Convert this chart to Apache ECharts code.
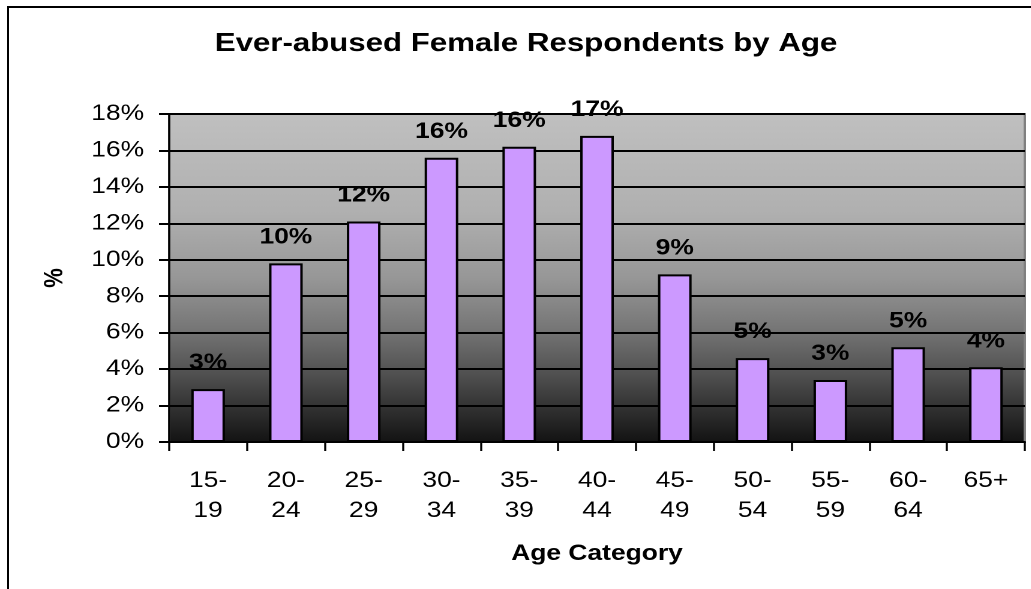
<!DOCTYPE html>
<html>
<head>
<meta charset="utf-8">
<script src="https://cdn.jsdelivr.net/npm/echarts@6/dist/echarts.min.js"></script>
<style>
html,body{margin:0;padding:0;background:#fff;overflow:hidden;}
#frame{position:absolute;left:7px;top:6px;width:1030px;height:590px;border-top:2px solid #000;border-left:2px solid #000;}
#chart{position:absolute;left:0;top:0;width:859px;height:589px;transform:scaleX(1.2);transform-origin:0 0;}
</style>
</head>
<body>
<div id="frame"></div>
<div id="chart"></div>
<script>
const categories = ['15-\n19','20-\n24','25-\n29','30-\n34','35-\n39','40-\n44','45-\n49','50-\n54','55-\n59','60-\n64','65+'];
const values = [2.9, 9.8, 12.1, 15.6, 16.2, 16.8, 9.2, 4.6, 3.4, 5.2, 4.1];
const yTicks = {min: 0, max: 18, interval: 2};

const font = 'Liberation Sans, Arial, sans-serif';
const chart = echarts.init(document.getElementById('chart'), null, {renderer: 'canvas', devicePixelRatio: 2});
chart.setOption({
  animation: false,
  backgroundColor: 'transparent',
  title: {
    text: 'Ever-abused Female Respondents by Age',
    left: 174,
    top: 26,
    textStyle: {fontFamily: font, fontSize: 26, fontWeight: 'bold', color: '#000'}
  },
  grid: {
    left: 141, right: 5, top: 114, bottom: 147,
    show: true,
    borderColor: '#808080',
    borderWidth: 2,
    backgroundColor: {
      type: 'linear', x: 0, y: 0, x2: 0, y2: 1,
      colorStops: [
        {offset: 0, color: '#c0c0c0'},
        {offset: 0.3, color: '#b0b0b0'},
        {offset: 0.5, color: '#979797'},
        {offset: 0.65, color: '#777777'},
        {offset: 0.8, color: '#4e4e4e'},
        {offset: 0.92, color: '#2a2a2a'},
        {offset: 1, color: '#121212'}
      ]
    }
  },
  xAxis: {
    type: 'category',
    data: categories,
    name: 'Age Category',
    nameLocation: 'middle',
    nameGap: 101,
    nameTextStyle: {fontFamily: font, fontSize: 22, fontWeight: 'bold', color: '#000'},
    axisLine: {lineStyle: {color: '#000', width: 2}},
    axisTick: {show: true, length: 9, lineStyle: {color: '#000', width: 1.7}},
    axisLabel: {fontFamily: font, fontSize: 22, color: '#000', margin: 24, lineHeight: 30, interval: 0},
    splitLine: {show: false}
  },
  yAxis: {
    type: 'value',
    min: yTicks.min, max: yTicks.max, interval: yTicks.interval,
    name: '%',
    nameLocation: 'middle',
    nameRotate: 90,
    nameGap: 84,
    nameTextStyle: {fontFamily: font, fontSize: 22, fontWeight: 'bold', color: '#000'},
    axisLine: {show: true, lineStyle: {color: '#000', width: 1.7}},
    axisTick: {show: true, length: 8.5, lineStyle: {color: '#000', width: 2}},
    axisLabel: {fontFamily: font, fontSize: 22, color: '#000', margin: 21, formatter: '{value}%'},
    splitLine: {show: true, lineStyle: {color: '#000', width: 2}}
  },
  series: [{
    type: 'bar',
    data: values,
    barWidth: 28,
    itemStyle: {color: '#CC99FF', borderColor: '#000', borderWidth: 2},
    label: {
      show: true,
      position: 'top',
      distance: 15,
      fontFamily: font,
      fontSize: 22,
      fontWeight: 'bold',
      color: '#000',
      formatter: function (p) { return Math.round(p.value) + '%'; }
    }
  }]
});
</script>
</body>
</html>
